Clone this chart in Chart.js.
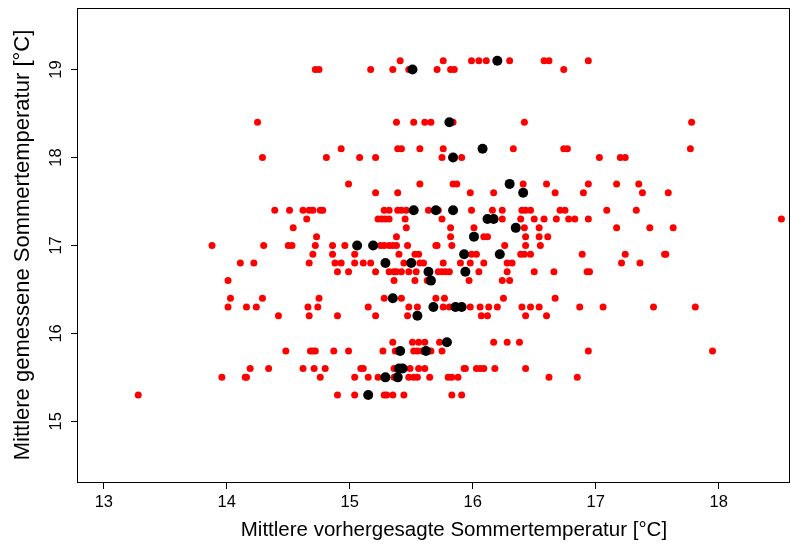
<!DOCTYPE html>
<html>
<head>
<meta charset="utf-8">
<script src="https://cdn.jsdelivr.net/npm/chart.js@4.4.1/dist/chart.umd.min.js"></script>
<style>
  html, body { margin: 0; padding: 0; background: #fff; }
  canvas { display: block; }
</style>
</head>
<body>
<canvas id="chart" width="791" height="547"></canvas>
<script>
// measured summer temperature levels (y), one entry per row of points
const measuredLevels = [19.1, 19.0, 18.4, 18.1, 18.0, 17.7, 17.6, 17.4, 17.3, 17.2, 17.1, 17.0,
  16.9, 16.8, 16.7, 16.6, 16.4, 16.3, 16.2, 15.9, 15.8, 15.6, 15.5, 15.3];

// forecast temperatures (x) of the red points, per measured level
const redForecasts = [
  [15.41, 15.76, 15.99, 16.05, 16.11, 16.30, 16.58, 16.62, 16.94],
  [14.72, 14.75, 15.17, 15.35, 15.48, 15.71, 15.82, 15.85, 16.74],
  [14.25, 15.38, 15.52, 15.61, 15.66, 15.84, 16.42, 17.78],
  [14.93, 15.39, 15.42, 15.57, 15.76, 16.33, 16.74, 16.77, 17.77],
  [14.29, 14.81, 15.08, 15.21, 15.75, 15.91, 17.03, 17.20, 17.24],
  [14.99, 15.57, 15.84, 15.87, 16.41, 16.60, 16.94, 17.17, 17.35],
  [15.21, 15.39, 15.98, 16.17, 16.67, 16.90, 17.38, 17.59],
  [14.39, 14.51, 14.62, 14.67, 14.70, 14.76, 14.78, 15.28, 15.32, 15.39, 15.42, 15.46, 15.64,
   15.72, 15.99, 16.16, 16.24, 16.40, 16.43, 16.47, 16.71, 16.75, 17.09, 17.33],
  [14.65, 15.23, 15.26, 15.29, 15.32, 15.45, 15.75, 16.24, 16.39, 16.50, 16.58, 16.68, 16.78,
   16.83, 16.94, 18.51],
  [14.54, 15.46, 15.82, 16.01, 16.42, 16.54, 17.17, 17.44, 17.63],
  [14.73, 15.38, 15.82, 16.09, 16.12, 16.43, 16.54, 16.61],
  [13.88, 14.30, 14.50, 14.53, 14.72, 14.86, 14.96, 15.25, 15.28, 15.32, 15.35, 15.38, 15.47,
   15.70, 15.71, 15.83, 16.26, 16.43, 16.55],
  [14.70, 14.86, 15.04, 15.40, 15.53, 15.56, 15.99, 16.03, 16.39, 16.42, 16.47, 16.89, 17.24,
   17.56, 17.57],
  [14.11, 14.22, 14.67, 14.88, 14.93, 15.04, 15.11, 15.17, 15.44, 15.57, 15.60, 15.76, 15.90,
   15.98, 16.09, 16.28, 16.32, 17.21, 17.36],
  [14.90, 14.99, 15.21, 15.32, 15.36, 15.38, 15.42, 15.48, 15.54, 15.72, 15.75, 15.78, 15.81,
   16.05, 16.28, 16.50, 16.66, 16.93, 16.95],
  [14.01, 15.36, 15.53, 15.63, 15.97, 16.24, 16.30],
  [14.03, 14.29, 14.75, 15.28, 15.42, 15.70, 15.77, 16.25, 16.67],
  [14.01, 14.16, 14.24, 14.66, 14.74, 15.15, 15.48, 15.55, 15.76, 15.81, 15.98, 16.06, 16.13,
   16.20, 16.40, 16.47, 16.54, 16.87, 17.06, 17.47, 17.81],
  [14.42, 14.67, 14.90, 15.21, 15.47, 16.07, 16.12, 16.43, 16.60],
  [15.35, 15.51, 15.56, 15.61, 15.73, 16.17, 16.28, 16.38],
  [14.48, 14.68, 14.70, 14.72, 14.87, 14.99, 15.27, 15.37, 15.52, 15.55, 15.59, 15.66, 15.75,
   16.94, 17.95],
  [14.19, 14.34, 14.62, 14.71, 14.80, 15.09, 15.11, 15.36, 15.49, 15.56, 15.61, 15.93, 15.94,
   16.03, 16.06, 16.09, 16.18, 16.43],
  [13.96, 14.15, 14.16, 14.76, 15.04, 15.15, 15.23, 15.36, 15.48, 15.52, 15.55, 15.65, 15.80,
   15.83, 15.88, 16.62, 16.85],
  [13.28, 14.90, 15.04, 15.28, 15.30, 15.35, 15.44, 15.83, 15.91]
];

// forecast temperatures (x) of the black points, per measured level
const blackForecasts = [
  [16.20], [15.51], [15.81], [16.08], [15.84], [16.30], [16.41],
  [15.52, 15.70, 15.84], [16.12, 16.17], [16.35], [16.01], [15.06, 15.19],
  [15.93, 16.22], [15.29, 15.50], [15.64, 15.94], [15.66], [15.35],
  [15.68, 15.86, 15.91], [15.55], [15.79], [15.41, 15.62], [15.40, 15.43],
  [15.29, 15.39], [15.15]
];

const xTicks = [13, 14, 15, 16, 17, 18];
const yTicks = [15, 16, 17, 18, 19];

// leading no-break spaces nudge the centred x label to the right, as in the original
const xTitle = '\u00a0\u00a0\u00a0\u00a0\u00a0\u00a0\u00a0Mittlere vorhergesagte Sommertemperatur [°C]';
const yTitle = 'Mittlere gemessene Sommertemperatur [°C]';

const FONT = '"Liberation Sans", Arial, sans-serif';

function toPoints(rows) {
  const pts = [];
  rows.forEach((xs, i) => {
    xs.forEach(x => pts.push({ x: x, y: measuredLevels[i] }));
  });
  return pts;
}

// keep the plot region fixed: no extra room for first/last tick labels
function fixAxis(size, dim) {
  return scale => {
    scale[dim] = size;
    scale.paddingTop = 0;
    scale.paddingBottom = 0;
    scale.paddingLeft = 0;
    scale.paddingRight = 0;
  };
}

// R-style closed box around the plot region
const framePlugin = {
  id: 'frame',
  afterDraw(chart) {
    const { ctx, chartArea: a } = chart;
    ctx.save();
    ctx.strokeStyle = '#000';
    ctx.lineWidth = 1;
    ctx.strokeRect(a.left - 0.5, a.top + 0.5, a.right - a.left, a.bottom - a.top);
    ctx.restore();
  }
};

const tickGrid = {
  display: true,
  drawOnChartArea: false,
  drawTicks: true,
  tickLength: 7,
  tickColor: '#000',
  lineWidth: 1
};

new Chart(document.getElementById('chart').getContext('2d'), {
  type: 'scatter',
  data: {
    datasets: [
      {
        label: 'black',
        data: toPoints(blackForecasts),
        backgroundColor: '#000',
        borderWidth: 0,
        pointRadius: 5,
        pointHoverRadius: 5
      },
      {
        label: 'red',
        data: toPoints(redForecasts),
        backgroundColor: '#ff0000',
        borderWidth: 0,
        pointRadius: 3.5,
        pointHoverRadius: 3.5
      }
    ]
  },
  options: {
    responsive: false,
    animation: false,
    layout: { autoPadding: false, padding: { top: 8, right: 1, left: 0, bottom: 0 } },
    plugins: {
      legend: { display: false },
      tooltip: { enabled: false }
    },
    scales: {
      x: {
        type: 'linear',
        min: 12.79,
        max: 18.58,
        afterBuildTicks: scale => { scale.ticks = xTicks.map(v => ({ value: v })); },
        afterFit: fixAxis(65, 'height'),
        grid: tickGrid,
        border: { display: false },
        ticks: {
          color: '#000',
          font: { family: FONT, size: 16.5 },
          padding: 4,
          maxRotation: 0
        },
        title: {
          display: true,
          text: xTitle,
          color: '#000',
          font: { family: FONT, size: 20.5 },
          padding: { top: 0, bottom: 4 }
        }
      },
      y: {
        type: 'linear',
        min: 14.31,
        max: 19.70,
        afterBuildTicks: scale => { scale.ticks = yTicks.map(v => ({ value: v })); },
        afterFit: fixAxis(78, 'width'),
        grid: tickGrid,
        border: { display: false },
        ticks: {
          color: '#000',
          font: { family: FONT, size: 16.5 },
          padding: 5,
          minRotation: 90,
          maxRotation: 90,
          crossAlign: 'center'
        },
        title: {
          display: true,
          text: yTitle,
          color: '#000',
          font: { family: FONT, size: 22 },
          padding: { top: 10, bottom: 0 }
        }
      }
    }
  },
  plugins: [framePlugin]
});
</script>
</body>
</html>
